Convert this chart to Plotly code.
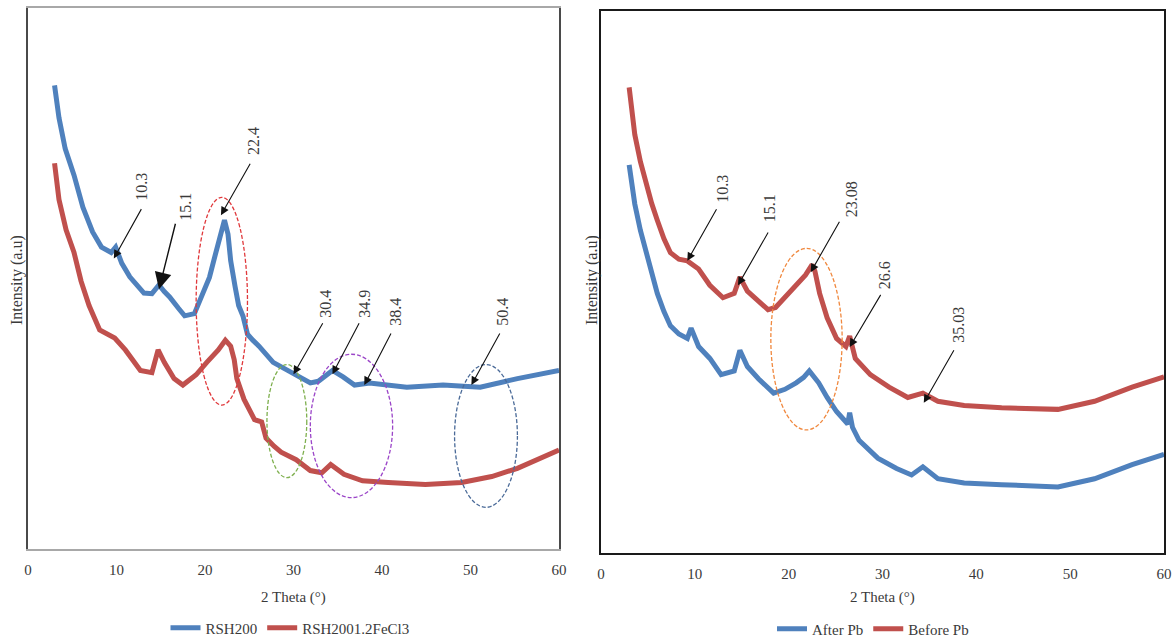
import plotly.graph_objects as go

# ---- Panel 1: RSH200 vs RSH2001.2FeCl3 ----
rsh200_x = [3.0, 3.5, 4.2, 5.2, 6.2, 7.3, 8.3, 9.4, 9.9, 10.6, 11.5, 12.3, 13.1, 14.0,
            14.8, 15.4, 16.0, 17.0, 17.7, 18.8, 19.8, 20.5, 21.1, 21.7, 22.2, 22.6,
            22.9, 23.4, 23.8, 24.3, 24.8, 25.4, 26.1, 27.7, 29.8, 31.9, 32.8, 34.4,
            35.6, 36.9, 38.6, 42.8, 46.9, 51.1, 55.3, 60.0]
rsh200_y = [85.7, 79.7, 74.0, 69.1, 63.2, 58.6, 55.8, 54.8, 55.8, 52.8, 50.3, 48.9, 47.3,
            47.2, 48.8, 47.6, 46.6, 44.5, 43.1, 43.5, 47.3, 50.2, 54.0, 58.0, 60.8,
            58.2, 53.3, 48.5, 45.0, 43.0, 39.7, 38.6, 37.5, 34.5, 32.6, 30.7, 31.0,
            33.0, 31.8, 30.3, 30.7, 29.9, 30.3, 29.9, 31.5, 33.0]

fecl3_x = [3.0, 3.5, 4.3, 5.2, 6.0, 6.9, 8.1, 9.8, 11.0, 12.0, 12.7, 14.0, 14.7, 15.4,
           16.5, 17.5, 19.0, 20.2, 21.5, 22.3, 22.9, 23.3, 23.6, 24.4, 25.6, 26.4,
           26.9, 27.8, 28.6, 30.3, 31.9, 33.2, 34.2, 35.7, 37.8, 40.7, 44.9, 49.0,
           52.4, 55.3, 60.0]
fecl3_y = [71.3, 64.6, 59.0, 54.8, 49.5, 45.0, 40.5, 39.0, 36.8, 34.6, 33.0, 32.6, 36.8,
           34.5, 31.5, 30.3, 32.2, 34.5, 36.8, 38.6, 37.5, 35.0, 31.5, 27.7, 23.9,
           23.5, 20.5, 19.0, 17.9, 16.5, 14.5, 14.1, 15.6, 13.8, 12.6, 12.3, 11.9,
           12.3, 13.4, 14.9, 18.3]

# ---- Panel 2: After Pb vs Before Pb ----
after_x = [3.0, 3.6, 4.2, 4.8, 5.4, 6.0, 6.7, 7.4, 8.3, 9.2, 9.6, 10.4, 11.6, 12.8,
           14.2, 14.8, 15.6, 16.8, 18.4, 19.6, 20.8, 21.6, 22.2, 23.2, 24.1, 25.1,
           26.3, 26.5, 26.8, 27.5, 29.5, 31.5, 33.1, 34.3, 35.9, 38.7, 42.7, 46.7,
           48.7, 52.6, 56.6, 60.0]
after_y = [71.6, 64.4, 59.5, 55.4, 51.5, 47.9, 44.6, 41.9, 40.4, 39.6, 41.5, 38.1, 35.9,
           32.9, 33.6, 37.4, 34.4, 32.1, 29.5, 30.2, 31.4, 32.4, 33.6, 31.4, 28.7,
           26.1, 23.8, 25.9, 23.2, 20.8, 17.5, 15.6, 14.4, 15.9, 13.7, 12.9, 12.6,
           12.2, 12.2, 13.7, 16.3, 18.2]

before_x = [3.0, 3.6, 4.2, 4.8, 5.4, 6.0, 6.7, 7.4, 8.3, 9.2, 10.4, 11.6, 13.0, 14.2,
            14.8, 15.6, 16.8, 17.8, 18.6, 19.6, 20.8, 21.8, 22.5, 22.8, 23.3, 24.1,
            25.1, 26.1, 26.5, 27.1, 28.7, 30.7, 32.7, 34.3, 35.9, 38.7, 42.7, 46.7,
            48.7, 52.6, 56.6, 60.0]
before_y = [85.9, 77.2, 72.2, 68.2, 64.5, 61.4, 58.0, 55.4, 54.2, 53.9, 52.4, 49.4, 47.1,
            47.9, 50.9, 48.3, 46.4, 44.9, 45.3, 47.1, 49.4, 51.3, 53.2, 52.0, 47.9,
            43.4, 39.6, 38.1, 40.0, 35.9, 32.9, 30.6, 28.7, 29.5, 28.0, 27.2, 26.8,
            26.5, 26.5, 28.0, 30.6, 32.5]

x_ticks = [0, 10, 20, 30, 40, 50, 60]

# peak labels: (label, arrow head x, head y, tail x, tail y, text x, text y)
peaks_left = [
    ("10.3", 9.7, 53.7, 12.9, 63.1, 12.8, 67.0),
    ("15.1", 14.8, 48.0, 16.7, 60.4, 17.7, 63.2),
    ("22.4", 21.8, 61.7, 25.2, 71.5, 25.4, 75.4),
    ("30.4", 30.0, 32.3, 33.4, 42.0, 33.6, 45.4),
    ("34.9", 34.4, 32.3, 37.5, 42.0, 38.0, 45.4),
    ("38.4", 38.0, 30.3, 41.1, 40.1, 41.5, 43.9),
    ("50.4", 50.1, 30.3, 53.4, 40.1, 53.6, 43.9),
]
peaks_right = [
    ("10.3", 9.2, 53.9, 12.4, 63.7, 13.0, 67.2),
    ("15.1", 14.6, 49.4, 17.9, 59.4, 17.9, 63.6),
    ("23.08", 22.35, 51.8, 25.5, 61.4, 26.65, 65.3),
    ("26.6", 26.5, 38.0, 29.9, 47.9, 30.3, 51.3),
    ("35.03", 34.4, 27.7, 37.7, 37.7, 38.1, 42.0),
]

# highlight regions: (x0, x1, y0, y1, colour)
regions_left = [
    (19.0, 24.8, 26.6, 65.0, "#E0383B"),
    (27.0, 31.5, 13.2, 34.1, "#7FB04F"),
    (31.9, 41.2, 9.5, 36.0, "#9B45C8"),
    (48.2, 55.3, 7.7, 34.1, "#4A6A98"),
]
regions_right = [
    (18.1, 25.7, 22.7, 56.2, "#F0883E"),
]

BLUE = "#4F81BD"
RED = "#C0504D"
FONT = "Liberation Serif"
TXT = "#3A3A3A"
LW = 5

fig = go.Figure()

fig.add_trace(go.Scatter(x=rsh200_x, y=rsh200_y, mode="lines", name="RSH200",
                         line=dict(color=BLUE, width=LW), xaxis="x", yaxis="y",
                         legend="legend"))
fig.add_trace(go.Scatter(x=fecl3_x, y=fecl3_y, mode="lines", name="RSH2001.2FeCl3",
                         line=dict(color=RED, width=LW), xaxis="x", yaxis="y",
                         legend="legend"))
fig.add_trace(go.Scatter(x=after_x, y=after_y, mode="lines", name="After Pb",
                         line=dict(color=BLUE, width=LW), xaxis="x2", yaxis="y2",
                         legend="legend2"))
fig.add_trace(go.Scatter(x=before_x, y=before_y, mode="lines", name="Before Pb",
                         line=dict(color=RED, width=LW), xaxis="x2", yaxis="y2",
                         legend="legend2"))

shapes = []
for (x0, x1, y0, y1, c), xr, yr in [(r, "x", "y") for r in regions_left] + \
                                  [(r, "x2", "y2") for r in regions_right]:
    shapes.append(dict(type="circle", xref=xr, yref=yr, x0=x0, x1=x1, y0=y0, y1=y1,
                       line=dict(color=c, width=1.3, dash="4px,2px")))

annotations = []
for peaks, xr, yr in [(peaks_left, "x", "y"), (peaks_right, "x2", "y2")]:
    for lab, hx, hy, tx, ty, lx, ly in peaks:
        big = (xr == "x" and lab == "15.1")
        annotations.append(dict(x=hx, y=hy, ax=tx, ay=ty, xref=xr, yref=yr,
                                axref=xr, ayref=yr, text="", showarrow=True,
                                arrowhead=2, arrowsize=2.4 if big else 1.5,
                                arrowwidth=1.4 if big else 1.1, arrowcolor="#111111"))
        annotations.append(dict(x=lx, y=ly, xref=xr, yref=yr, text=lab, textangle=-90,
                                showarrow=False, font=dict(family=FONT, size=16, color=TXT)))

# axis titles
for xd in ("x domain", "x2 domain"):
    annotations.append(dict(x=0.5, y=1 - 597 / 641, xref=xd, yref="paper",
                            text="2 Theta (°)", showarrow=False, yanchor="middle",
                            font=dict(family=FONT, size=15, color=TXT)))
for px in (17, 592):
    annotations.append(dict(x=px / 1176, y=1 - 280 / 641, xref="paper", yref="paper",
                            text="Intensity (a.u)", textangle=-90, showarrow=False,
                            xanchor="center", yanchor="middle",
                            font=dict(family=FONT, size=16, color=TXT)))

axis_common = dict(range=[0, 60], tickvals=x_ticks, showgrid=False, zeroline=False,
                   ticks="", ticklabelstandoff=6,
                   tickfont=dict(family=FONT, size=15, color=TXT))
yaxis_common = dict(range=[0, 100], showgrid=False, zeroline=False,
                    showticklabels=False, ticks="")

fig.update_layout(
    width=1176, height=641,
    margin=dict(l=0, r=0, t=0, b=0, autoexpand=False),
    paper_bgcolor="white", plot_bgcolor="white",
    showlegend=True,
    xaxis=dict(domain=[28 / 1176, 559 / 1176], anchor="y", showline=True, mirror=True,
               linecolor="#A8A8A8", linewidth=1.5, **axis_common),
    yaxis=dict(domain=[92 / 641, 633 / 641], anchor="x", showline=True, mirror=True,
               linecolor="#4A4A4A", linewidth=1.5, **yaxis_common),
    xaxis2=dict(domain=[601 / 1176, 1164 / 1176], anchor="y2", showline=True, mirror=True,
                linecolor="#1A1A1A", linewidth=2, **axis_common),
    yaxis2=dict(domain=[88 / 641, 630 / 641], anchor="x2", showline=True, mirror=True,
                linecolor="#1A1A1A", linewidth=2, **yaxis_common),
    legend=dict(orientation="h", x=290 / 1176, y=1 - 628 / 641, xanchor="center",
                yanchor="middle", font=dict(family=FONT, size=15, color=TXT),
                bgcolor="rgba(0,0,0,0)"),
    legend2=dict(orientation="h", x=873 / 1176, y=1 - 629 / 641, xanchor="center",
                 yanchor="middle", font=dict(family=FONT, size=15, color=TXT),
                 bgcolor="rgba(0,0,0,0)"),
    shapes=shapes,
    annotations=annotations,
)

fig.write_html("out.html")
